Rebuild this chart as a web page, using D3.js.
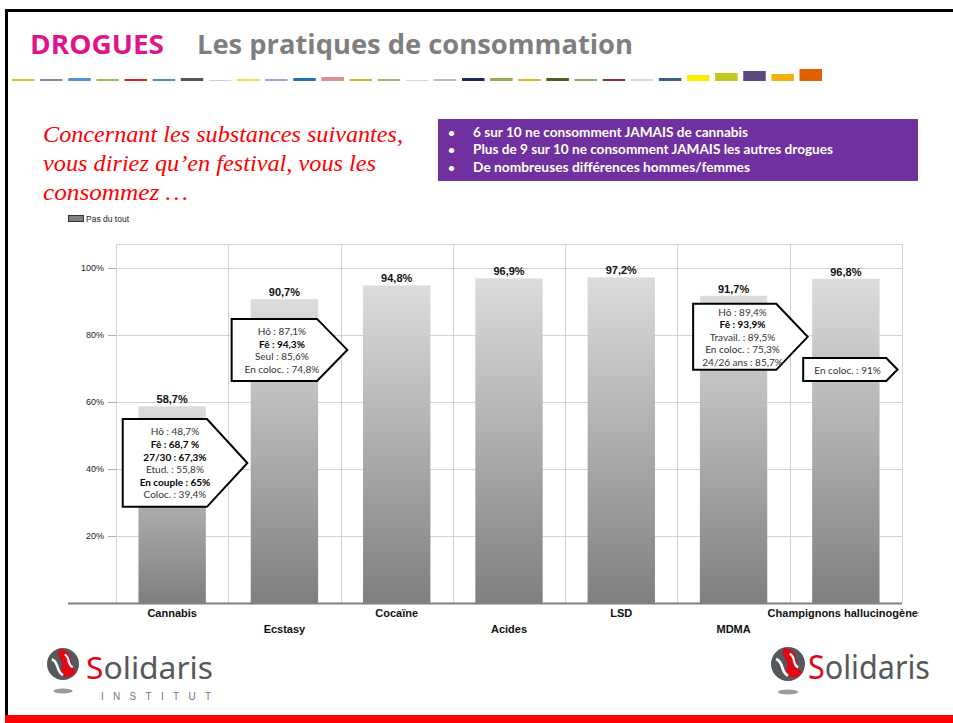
<!DOCTYPE html>
<html>
<head>
  <meta charset="utf-8">
  <title>Drogues - pratiques de consommation</title>
  <script src="https://d3js.org/d3.v7.min.js"></script>
  <style>
    body { margin: 0; background: #fff; }
  </style>
</head>
<body>
<svg width="953" height="723"></svg>
<script>
  // data
  const categories = ["Cannabis", "Ecstasy", "Cocaïne", "Acides", "LSD", "MDMA", "Champignons hallucinogènes"];
  const values = [58.7, 90.7, 94.8, 96.9, 97.2, 91.7, 96.8];
  const yTicks = [20, 40, 60, 80, 100];
  const seriesName = "Pas du tout";

  const bullets = [
    "6 sur 10 ne consomment JAMAIS de cannabis",
    "Plus de 9 sur 10 ne consomment JAMAIS les autres drogues",
    "De nombreuses différences hommes/femmes"
  ];
  const question = [
    "Concernant les substances suivantes,",
    "vous diriez qu\u2019en festival, vous les",
    "consommez \u2026"
  ];

  // callout boxes: text lines, [label, bold]
  const calloutCats = ["Cannabis", "Ecstasy", "MDMA", "Champignons hallucinogènes"];
  const calloutLines = [
    [["Hô : 48,7%", 0], ["Fê : 68,7 %", 1], ["27/30 : 67,3%", 1], ["Etud. : 55,8%", 0], ["En couple : 65%", 1], ["Coloc. : 39,4%", 0]],
    [["Hô : 87,1%", 0], ["Fê : 94,3%", 1], ["Seul : 85,6%", 0], ["En coloc. : 74,8%", 0]],
    [["Hô : 89,4%", 0], ["Fê : 93,9%", 1], ["Travail. : 89,5%", 0], ["En coloc. : 75,3%", 0], ["24/26 ans : 85,7%", 0]],
    [["En coloc. : 91%", 0]]
  ];

  const stripColors = ["#e8b830", "#8a8a8a", "#5b8fd0", "#9bbb59", "#e02020", "#4a90c8", "#555555", "#cfcfcf",
    "#f0e040", "#b0a0c8", "#2070b0", "#d89090", "#e0b020", "#a0b870", "#d6d6d6", "#bcbcbc", "#1a2a60",
    "#90b050", "#e8b020", "#4a6020", "#90a860", "#803030", "#d8d8d8", "#3a6090", "#f8f000", "#c0c820",
    "#5a4a80", "#f0b010", "#e06000"];
  const stripHeights = [2, 2, 3, 2, 2, 2, 3, 1, 2, 2, 3, 4, 2, 2, 1, 2, 3, 3, 2, 3, 2, 2, 2, 3, 6, 8, 10, 7, 12];

  const svg = d3.select("svg");

  // slide frame
  svg.append("rect").attr("x", 5).attr("y", 9).attr("width", 948).attr("height", 3).attr("fill", "#000");
  svg.append("rect").attr("x", 5).attr("y", 9).attr("width", 3).attr("height", 706).attr("fill", "#000");
  svg.append("rect").attr("x", 5).attr("y", 715).attr("width", 948).attr("height", 8).attr("fill", "#ff0000");

  // header
  svg.append("text").attr("x", 30).attr("y", 54)
    .attr("font-family", "Open Sans").attr("font-weight", "bold").attr("font-size", 26)
    .attr("fill", "#e0138c").attr("textLength", 134).attr("lengthAdjust", "spacingAndGlyphs")
    .text("DROGUES");
  svg.append("text").attr("x", 197).attr("y", 54)
    .attr("font-family", "Open Sans").attr("font-weight", "bold").attr("font-size", 26)
    .attr("fill", "#7f7f7f").attr("textLength", 436).attr("lengthAdjust", "spacingAndGlyphs")
    .text("Les pratiques de consommation");

  const strip = d3.scaleBand().domain(d3.range(stripColors.length)).range([12, 822]).paddingInner(0.2);
  svg.append("g").selectAll("rect").data(stripColors).join("rect")
    .attr("x", (d, i) => strip(i))
    .attr("y", (d, i) => 81 - stripHeights[i])
    .attr("width", strip.bandwidth())
    .attr("height", (d, i) => stripHeights[i])
    .attr("fill", d => d);

  // question text
  const qLen = [360, 333, 145];
  svg.append("g").selectAll("text").data(question).join("text")
    .attr("x", 43).attr("y", (d, i) => 142 + i * 29)
    .attr("font-family", "Liberation Serif").attr("font-style", "italic").attr("font-size", 24)
    .attr("fill", "#ff0000")
    .attr("textLength", (d, i) => qLen[i]).attr("lengthAdjust", "spacingAndGlyphs")
    .text(d => d);

  // purple key findings box
  svg.append("rect").attr("x", 438).attr("y", 119).attr("width", 480).attr("height", 62).attr("fill", "#7030a0");
  const bLen = [275, 360, 277];
  const bg = svg.append("g").selectAll("g").data(bullets).join("g")
    .attr("transform", (d, i) => `translate(0,${137 + i * 17.3})`);
  bg.append("text").attr("x", 448).attr("font-family", "Lato").attr("font-size", 12)
    .attr("font-weight", "bold").attr("fill", "#fff").text("\u2022");
  bg.append("text").attr("x", 473).attr("font-family", "Lato").attr("font-size", 13)
    .attr("font-weight", "bold").attr("fill", "#fff")
    .attr("textLength", (d, i) => bLen[i]).attr("lengthAdjust", "spacingAndGlyphs")
    .text(d => d);

  // legend
  svg.append("rect").attr("x", 68.5).attr("y", 215.5).attr("width", 15).attr("height", 6)
    .attr("fill", "#808080").attr("stroke", "#333").attr("stroke-width", 1);
  svg.append("text").attr("x", 86).attr("y", 221.5)
    .attr("font-family", "Liberation Sans").attr("font-size", 8.5).attr("fill", "#222").text(seriesName);

  // chart
  const left = 116, right = 902, bottom = 603;
  const x = d3.scaleBand().domain(categories).range([left, right]).padding(0);
  const y = d3.scaleLinear().domain([0, 100]).range([bottom, 268]);
  const yMax = 107.2;
  const barW = x.bandwidth() * 0.6;

  const defs = svg.append("defs");
  const grad = defs.append("linearGradient").attr("id", "barGrad")
    .attr("x1", 0).attr("y1", 0).attr("x2", 0).attr("y2", 1);
  grad.append("stop").attr("offset", "0%").attr("stop-color", "#dcdcdc");
  grad.append("stop").attr("offset", "100%").attr("stop-color", "#7f7f7f");
  defs.append("clipPath").attr("id", "labelClip").append("rect")
    .attr("x", 0).attr("y", 0).attr("width", 919).attr("height", 723);

  const grid = svg.append("g").attr("stroke", "#d4d4d4").attr("stroke-width", 1);
  grid.selectAll("line.h").data(yTicks.concat([yMax])).join("line").attr("class", "h")
    .attr("x1", left).attr("x2", right)
    .attr("y1", d => Math.round(y(d)) + 0.5).attr("y2", d => Math.round(y(d)) + 0.5);
  const vx = categories.map(c => x(c)).concat([right]);
  grid.selectAll("line.v").data(vx).join("line").attr("class", "v")
    .attr("x1", d => Math.round(d) + 0.5).attr("x2", d => Math.round(d) + 0.5)
    .attr("y1", y(yMax)).attr("y2", bottom);

  // y axis
  const yAxis = svg.append("g").attr("transform", `translate(${left},0)`)
    .call(d3.axisLeft(y).tickValues(yTicks).tickSize(8).tickPadding(4).tickFormat(d => d + "%"));
  yAxis.select(".domain").remove();
  yAxis.selectAll(".tick line").attr("stroke", "#b0b0b0");
  yAxis.selectAll(".tick text").attr("font-family", "Liberation Sans").attr("font-size", 9).attr("fill", "#222");

  // bars
  svg.append("g").selectAll("rect").data(values).join("rect")
    .attr("x", (d, i) => x(categories[i]) + (x.bandwidth() - barW) / 2)
    .attr("y", d => y(d))
    .attr("width", barW)
    .attr("height", d => bottom - y(d))
    .attr("fill", "url(#barGrad)");

  // baseline
  svg.append("line").attr("x1", 68).attr("x2", right).attr("y1", bottom + 0.5).attr("y2", bottom + 0.5)
    .attr("stroke", "#808080").attr("stroke-width", 2);

  // value labels
  svg.append("g").selectAll("text").data(values).join("text")
    .attr("x", (d, i) => x(categories[i]) + x.bandwidth() / 2)
    .attr("y", d => y(d) - 3)
    .attr("text-anchor", "middle")
    .attr("font-family", "Liberation Sans").attr("font-weight", "bold").attr("font-size", 11)
    .attr("fill", "#111")
    .text(d => d.toFixed(1).replace(".", ",") + "%");

  // category labels, staggered on two rows
  const xAxis = svg.append("g").attr("transform", `translate(0,${bottom})`)
    .attr("clip-path", "url(#labelClip)")
    .call(d3.axisBottom(x).tickSize(0).tickPadding(0));
  xAxis.select(".domain").remove();
  xAxis.selectAll(".tick text")
    .attr("y", (d, i) => i % 2 === 0 ? 14 : 30)
    .attr("dy", 0)
    .attr("font-family", "Liberation Sans").attr("font-weight", "bold").attr("font-size", 11)
    .attr("fill", "#111");

  // callouts: vertical extent in % units, horizontal as fraction of the band
  const calloutY = [[54.9, 28.7], [84.8, 66.3], [89.3, 69.6], [73.1, 66.3]];
  const calloutX = [[0.06, 0.81, 1.17], [0.03, 0.79, 1.06], [0.14, 0.88, 1.16], [0.12, 0.86, 0.96]];
  const step = x.step();
  calloutCats.forEach((c, k) => {
    const x0 = x(c);
    const l = x0 + calloutX[k][0] * step, r = x0 + calloutX[k][1] * step, tip = x0 + calloutX[k][2] * step;
    const t = y(calloutY[k][0]), b = y(calloutY[k][1]);
    const m = (t + b) / 2;
    const g = svg.append("g");
    g.append("path")
      .attr("d", d3.line()([[l, t], [r, t], [tip, m], [r, b], [l, b]]) + "Z")
      .attr("fill", "#fff").attr("stroke", "#000").attr("stroke-width", 2).attr("stroke-linejoin", "miter");
    const lines = calloutLines[k];
    const lh = 12.6;
    const cx = (l + (r + tip) / 2) / 2;
    g.selectAll("text").data(lines).join("text")
      .attr("x", cx)
      .attr("y", (d, i) => m + (i - (lines.length - 1) / 2) * lh)
      .attr("dominant-baseline", "central")
      .attr("text-anchor", "middle")
      .attr("font-family", "Lato").attr("font-size", 10)
      .attr("font-weight", d => d[1] ? "bold" : "normal")
      .attr("fill", d => d[1] ? "#000" : "#333")
      .text(d => d[0]);
  });

  // Solidaris logos
  function logo(cx, cy, r, tx, ty, fs, tlen) {
    const g = svg.append("g");
    g.append("ellipse").attr("cx", cx).attr("cy", cy + r + 11).attr("rx", r * 0.6).attr("ry", 2.5).attr("fill", "#9a9a9a");
    g.append("circle").attr("cx", cx).attr("cy", cy).attr("r", r).attr("fill", "#55595c");
    g.append("path")
      .attr("d", `M${cx - r * 0.2},${cy - r * 0.95} C${cx + r * 0.9},${cy - r * 0.7} ${cx + r * 0.2},${cy + r * 0.1} ${cx + r * 0.85},${cy + r * 0.5}
                  C${cx + r * 0.5},${cy + r * 0.95} ${cx - r * 0.3},${cy + r * 0.9} ${cx - r * 0.1},${cy + r * 0.3}
                  C${cx + r * 0.2},${cy - r * 0.2} ${cx - r * 0.6},${cy - r * 0.5} ${cx - r * 0.2},${cy - r * 0.95}Z`)
      .attr("fill", "#e30613");
    g.append("path")
      .attr("d", `M${cx - r * 0.7},${cy - r * 0.3} C${cx - r * 0.2},${cy - r * 0.1} ${cx - r * 0.5},${cy + r * 0.4} ${cx},${cy + r * 0.7}`)
      .attr("fill", "none").attr("stroke", "#fff").attr("stroke-width", r * 0.16);
    g.append("path")
      .attr("d", `M${cx + r * 0.1},${cy - r * 0.6} C${cx + r * 0.5},${cy - r * 0.4} ${cx + r * 0.2},${cy} ${cx + r * 0.6},${cy + r * 0.2}`)
      .attr("fill", "none").attr("stroke", "#fff").attr("stroke-width", r * 0.14);
    const t = g.append("text").attr("x", tx).attr("y", ty)
      .attr("font-family", "Noto Sans").attr("font-size", fs)
      .attr("textLength", tlen).attr("lengthAdjust", "spacingAndGlyphs");
    t.append("tspan").attr("fill", "#e30613").text("S");
    t.append("tspan").attr("fill", "#55595c").text("olidaris");
    return g;
  }
  logo(63, 664, 16, 86, 679, 31, 127);
  svg.append("text").attr("x", 101).attr("y", 700)
    .attr("font-family", "Liberation Sans").attr("font-size", 10).attr("fill", "#777")
    .attr("textLength", 110).attr("lengthAdjust", "spacing")
    .text("INSTITUT");
  logo(788, 664, 17, 808, 679, 33, 122);
</script>
</body>
</html>
